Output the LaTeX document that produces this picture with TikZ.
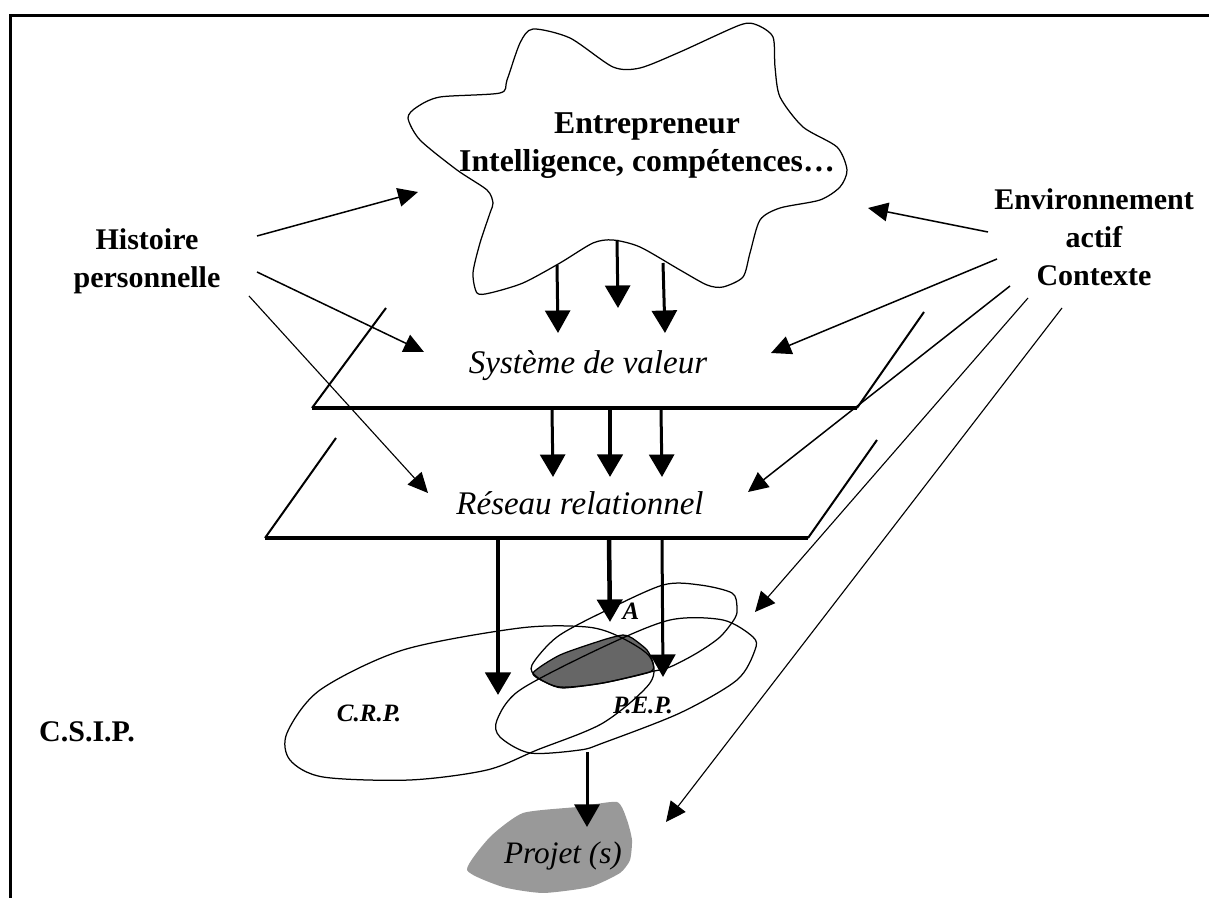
\documentclass[tikz,border=0pt]{standalone}
\usepackage{fontspec}
\setmainfont{Liberation Serif}
\usetikzlibrary{arrows.meta}
\definecolor{ProjetGray}{RGB}{153,153,153}
\definecolor{CoreGray}{RGB}{102,102,102}
\tikzset{
  frameline/.style={line width=1.2pt},
  outline/.style={line width=0.5pt},
  planeside/.style={line width=0.8pt},
  planeedge/.style={line width=1.7pt},
  bigarrow/.style={-{Triangle[length=9pt,width=10pt]},line width=1.2pt},
  fatarrow/.style={bigarrow,line width=1.8pt},
  thinarrow/.style={-{Triangle[length=8pt,width=7.5pt]},line width=0.6pt},
  hairarrow/.style={thinarrow,line width=0.45pt},
  boldlabel/.style={font=\fontsize{12}{15.2}\selectfont\bfseries,align=center},
  planelabel/.style={font=\fontsize{13.2}{15}\selectfont\itshape},
  smalllabel/.style={font=\fontsize{10}{12}\selectfont\bfseries\itshape}
}
\begin{document}
\begin{tikzpicture}[x=0.4pt,y=-0.4pt]
\useasboundingbox (0,0) rectangle (1209,898);

% frame (top and left only)
\draw[frameline] (9,16) -- (1209,16);
\draw[frameline] (10,16) -- (10,898);

% entrepreneur cloud
\draw[outline] plot[smooth cycle,tension=0.45] coordinates {
  (533,29) (570,38) (613,67) (640,68) (680,52) (740,25) (757,25) (773,37)
  (775,67) (780,97) (803,127) (837,147) (847,170) (840,187) (820,200)
  (780,208) (760,220) (750,253) (743,277) (723,287) (707,285) (680,270)
  (640,247) (613,240) (593,243) (560,263) (523,283) (490,293) (477,293)
  (473,273) (480,243) (490,213) (493,203) (487,190) (457,170) (420,140)
  (408,118) (417,107) (440,97) (500,93) (507,80) (520,43)};
\node[boldlabel,font=\fontsize{12.7}{15.2}\selectfont\bfseries] (entre) at (647,146)
  {Entrepreneur\\Intelligence, compétences…};

% side labels
\node[boldlabel] (hist) at (147,261) {Histoire\\personnelle};
\node[boldlabel] (env) at (1094,237) {Environnement\\actif\\Contexte};
\node[boldlabel] (csip) at (87,732) {C.S.I.P.};

% planes
\draw[planeside] (386,308) -- (312,408);
\draw[planeedge] (312,408) -- (857,408);
\draw[planeside] (857,408) -- (924,312);
\node[planelabel] (sys) at (588,366) {Système de valeur};

\draw[planeside] (336,438) -- (265,538);
\draw[planeedge] (265,538) -- (808,538);
\draw[planeside] (808,538) -- (877,440);
\node[planelabel] (res) at (580,503) {Réseau relationnel};

% core and projet shapes
\fill[CoreGray] plot[smooth cycle,tension=0.4] coordinates {
  (533,673) (560,655) (603,640) (623,635) (632,638) (647,650) (653,663)
  (650,672) (603,683) (563,688) (547,683)};
\draw[outline] plot[smooth cycle,tension=0.4] coordinates {
  (533,673) (560,655) (603,640) (623,635) (632,638) (647,650) (653,663)
  (650,672) (603,683) (563,688) (547,683)};
\fill[ProjetGray] plot[smooth cycle,tension=0.35] coordinates {
  (467,870) (490,837) (523,813) (577,807) (617,802) (627,820) (632,840)
  (630,860) (620,873) (590,887) (543,893) (503,887)};

% the three sets
\draw[outline] plot[smooth cycle,tension=0.5] coordinates {
  (287,733) (320,690) (403,650) (520,628) (587,627) (620,637) (650,657)
  (650,683) (603,723) (537,750) (487,770) (410,780) (323,777) (290,760)};
\draw[outline] plot[smooth cycle,tension=0.5] coordinates {
  (497,720) (520,690) (603,647) (670,620) (723,620) (753,637) (755,650)
  (737,680) (680,713) (603,743) (580,750) (530,753) (500,737)};
\draw[outline] plot[smooth cycle,tension=0.5] coordinates {
  (532,665) (557,637) (603,612) (663,585) (700,585) (732,593) (737,607)
  (735,618) (720,637) (697,653) (670,667) (650,672) (603,683) (560,687)
  (537,677)};
\node[smalllabel] (crp) at (369,713) {C.R.P.};
\node[smalllabel] (pep) at (643,705) {P.E.P.};
\node[smalllabel] (aset) at (631,611) {A};
\node[font=\fontsize{12.5}{14}\selectfont\itshape] (projet) at (563,856) {Projet (s)};

% vertical flows
\coordinate (c1) at (557,265);  \coordinate (c1t) at (558,333);
\coordinate (c2) at (617,240);  \coordinate (c2t) at (618,308);
\coordinate (c3) at (663,263);  \coordinate (c3t) at (665,333);
\draw[bigarrow] (c1) -- (c1t);
\draw[bigarrow] (c2) -- (c2t);
\draw[bigarrow] (c3) -- (c3t);

\coordinate (s1) at (552,410);  \coordinate (s1t) at (553,477);
\coordinate (s2) at (610,410);  \coordinate (s2t) at (610,477);
\coordinate (s3) at (661,410);  \coordinate (s3t) at (662,477);
\draw[bigarrow] (s1) -- (s1t);
\draw[fatarrow] (s2) -- (s2t);
\draw[bigarrow] (s3) -- (s3t);

\coordinate (r1) at (498,540);  \coordinate (r1t) at (498,695);
\coordinate (r2) at (609,540);  \coordinate (r2t) at (610,622);
\coordinate (r3) at (662,540);  \coordinate (r3t) at (663,677);
\draw[fatarrow] (r1) -- (r1t);
\draw[fatarrow] (r2) -- (r2t);
\draw[bigarrow] (r3) -- (r3t);

\coordinate (p1) at (587,752);  \coordinate (p1t) at (587,827);
\draw[bigarrow] (p1) -- (p1t);

% influences of personal history
\coordinate (h1) at (257,236);  \coordinate (h1t) at (418,192);
\coordinate (h2) at (257,272);  \coordinate (h2t) at (424,352);
\coordinate (h3) at (249,296);  \coordinate (h3t) at (428,493);
\draw[thinarrow] (h1) -- (h1t);
\draw[thinarrow] (h2) -- (h2t);
\draw[hairarrow] (h3) -- (h3t);

% influences of the environment
\coordinate (e1) at (988,232);  \coordinate (e1t) at (868,208);
\coordinate (e2) at (997,259);  \coordinate (e2t) at (771,353);
\coordinate (e3) at (1010,286); \coordinate (e3t) at (748,492);
\coordinate (e4) at (1028,298); \coordinate (e4t) at (755,612);
\coordinate (e5) at (1062,308); \coordinate (e5t) at (666,822);
\draw[thinarrow] (e1) -- (e1t);
\draw[thinarrow] (e2) -- (e2t);
\draw[thinarrow] (e3) -- (e3t);
\draw[hairarrow] (e4) -- (e4t);
\draw[hairarrow] (e5) -- (e5t);

\end{tikzpicture}
\end{document}
